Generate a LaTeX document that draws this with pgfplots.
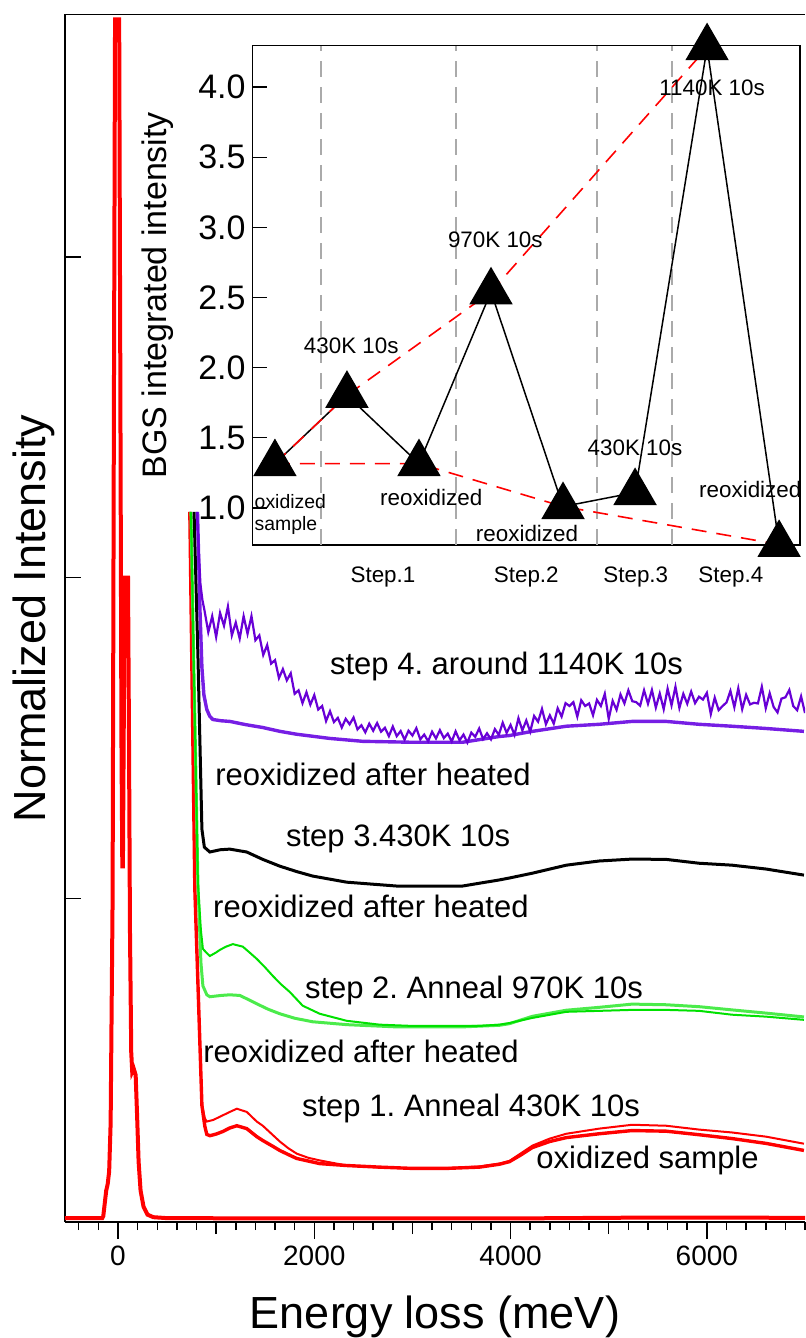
\documentclass[border=0pt]{standalone}
\usepackage{fontspec}
\setmainfont{Liberation Sans}
\usepackage{pgfplots}
\usepackage{pgfplotstable}
\pgfplotsset{compat=1.18}
\frenchspacing

\definecolor{grnA}{RGB}{0,225,0}
\definecolor{grnB}{RGB}{75,235,75}
\definecolor{purA}{RGB}{104,0,214}
\definecolor{purB}{RGB}{118,30,228}
\definecolor{gridgray}{RGB}{170,170,170}

\newcommand\labfont{\fontsize{22.5}{27}\selectfont}
\newcommand\annfont{\fontsize{15.5}{18.6}\selectfont}
\newcommand\tickfont{\fontsize{14}{16.8}\selectfont}
\newcommand\insfont{\fontsize{11.2}{13.4}\selectfont}
\newcommand\insaxfont{\fontsize{17}{20.4}\selectfont}
\newcommand\smallfont{\fontsize{9.7}{11}\selectfont}

% step 4 spectrum (noisy)
\pgfplotstableread{
x y
805 2.205
820 2.100
840 1.980
860 1.930
880 1.900
920 1.830
960 1.880
1000 1.815
1040 1.890
1080 1.850
1120 1.910
1160 1.820
1200 1.860
1240 1.810
1280 1.880
1320 1.825
1360 1.880
1400 1.805
1440 1.820
1480 1.759
1520 1.790
1560 1.732
1600 1.743
1640 1.687
1680 1.715
1720 1.680
1760 1.702
1800 1.638
1840 1.649
1880 1.609
1920 1.643
1960 1.604
2000 1.634
2040 1.589
2080 1.600
2120 1.553
2160 1.584
2200 1.550
2240 1.563
2280 1.533
2320 1.560
2360 1.543
2400 1.564
2440 1.527
2480 1.540
2520 1.518
2560 1.545
2600 1.523
2640 1.547
2680 1.520
2720 1.532
2760 1.506
2800 1.536
2840 1.506
2880 1.522
2920 1.495
2960 1.523
3000 1.508
3040 1.531
3080 1.496
3120 1.511
3160 1.490
3200 1.520
3240 1.499
3280 1.525
3320 1.500
3360 1.514
3400 1.489
3440 1.521
3480 1.493
3520 1.511
3560 1.486
3600 1.517
3640 1.504
3680 1.530
3720 1.497
3760 1.515
3800 1.496
3840 1.528
3880 1.510
3920 1.548
3960 1.516
4000 1.541
4040 1.510
4080 1.562
4120 1.524
4160 1.555
4200 1.520
4240 1.569
4280 1.551
4320 1.591
4360 1.543
4400 1.571
4440 1.545
4480 1.593
4520 1.567
4560 1.609
4600 1.600
4640 1.612
4680 1.567
4720 1.618
4760 1.600
4800 1.608
4840 1.571
4880 1.619
4920 1.600
4960 1.638
5000 1.560
5040 1.616
5080 1.588
5120 1.636
5160 1.608
5200 1.649
5240 1.615
5280 1.612
5320 1.601
5360 1.649
5400 1.607
5440 1.650
5480 1.595
5520 1.639
5560 1.590
5600 1.654
5640 1.602
5680 1.660
5720 1.594
5760 1.638
5800 1.607
5840 1.645
5880 1.609
5920 1.629
5960 1.620
6000 1.641
6040 1.575
6080 1.626
6120 1.587
6160 1.600
6200 1.611
6240 1.647
6280 1.596
6320 1.655
6360 1.590
6400 1.635
6440 1.605
6480 1.610
6520 1.608
6560 1.660
6600 1.593
6640 1.640
6680 1.597
6720 1.580
6760 1.623
6800 1.627
6840 1.650
6880 1.600
6920 1.587
6960 1.630
7000 1.578
}\stepfour

\begin{document}
\begin{tikzpicture}
\useasboundingbox (-32.5pt,-58pt) rectangle (370pt,611pt);

\begin{axis}[
  at={(0,0)}, anchor=south west, scale only axis,
  width=370pt, height=603.75pt,
  xmin=-540, xmax=7000, ymin=-0.008, ymax=3.755,
  axis x line*=box, axis y line*=left,
  axis line style={-, line width=0.75pt},
  every tick/.style={black, line width=0.75pt},
  tick align=outside,
  major tick length=8.5pt, minor tick length=4pt,
  xtick pos=bottom, ytick pos=left,
  xtick={0,2000,4000,6000}, xticklabels={0,2000,4000,6000},
  minor xtick={-400,-200,...,7000},
  extra x ticks={1000,3000,5000}, extra x tick labels={},
  extra x tick style={major tick length=6pt},
  ytick={0,1,2,3}, yticklabels={},
  ytick style={xshift=8pt},
  xticklabel style={font=\tickfont},
  xlabel={Energy loss (meV)},
  ylabel={Normalized Intensity},
  xlabel style={font=\labfont, at={(axis description cs:0.5,-0.0878)}, anchor=base},
  ylabel style={font=\labfont, at={(axis description cs:-0.027,0.5)}, anchor=base},
]
% elastic peak
\addplot[red, line width=2pt] coordinates {
(-540,0.004) (-160,0.004) (-150,0.01) (-135,0.05) (-120,0.09) (-105,0.11)
(-90,0.15) (-75,0.3) (-55,1.0) (-42,2.5) (-30,3.74) (12,3.74) (24,2.6)
(35,1.5) (44,1.1) (50,1.1) (58,1.5) (68,2.0) (102,2.0) (112,1.5) (122,0.9)
(135,0.52) (145,0.46) (160,0.47) (180,0.45) (195,0.32) (210,0.18)
(230,0.09) (260,0.04) (300,0.015) (360,0.007) (500,0.004) (2000,0.003)
(4000,0.003) (5500,0.006) (7000,0.005)};

% oxidized sample
\addplot[red, line width=1.7pt] coordinates {
(732,2.205) (783,1.03) (855,0.355) (885,0.29) (905,0.265) (936,0.261)
(1000,0.266) (1068,0.274) (1139,0.285) (1211,0.292) (1312,0.283)
(1414,0.258) (1475,0.246) (1577,0.228) (1648,0.215) (1750,0.2) (1821,0.19)
(2055,0.174) (2330,0.168) (2665,0.163) (3001,0.159) (3347,0.159)
(3683,0.163) (3886,0.172) (3988,0.18) (4100,0.2) (4222,0.224) (4400,0.243)
(4568,0.255) (4903,0.267) (5239,0.277) (5585,0.275) (5921,0.264)
(6256,0.252) (6602,0.237) (6989,0.215)};

% step 1
\addplot[red, line width=1pt] coordinates {
(732,2.205) (783,1.03) (855,0.36) (885,0.315) (905,0.305) (970,0.31)
(1038,0.32) (1139,0.335) (1211,0.345) (1312,0.335) (1414,0.305)
(1475,0.292) (1560,0.268) (1648,0.243) (1735,0.222) (1821,0.205)
(1940,0.192) (2055,0.184) (2330,0.168) (2665,0.162) (3001,0.159)
(3347,0.16) (3683,0.165) (3886,0.174) (3988,0.182) (4100,0.205)
(4222,0.23) (4400,0.252) (4568,0.267) (4903,0.283) (5239,0.295)
(5585,0.292) (5921,0.28) (6256,0.271) (6602,0.258) (6989,0.236)};

% reoxidized after step 1
\addplot[grnB, line width=1.5pt] coordinates {
(743,2.205) (790,1.45) (814,1.05) (845,0.8) (865,0.728) (905,0.70)
(936,0.694) (1050,0.698) (1139,0.70) (1241,0.698) (1330,0.685)
(1414,0.672) (1530,0.655) (1648,0.641) (1800,0.627) (1984,0.616)
(2330,0.607) (2838,0.60) (3510,0.60) (3886,0.605) (3988,0.61)
(4222,0.633) (4568,0.652) (4903,0.661) (5239,0.671) (5585,0.669)
(5921,0.663) (6256,0.653) (6602,0.643) (6989,0.631)};

% step 2
\addplot[grnA, line width=1pt] coordinates {
(743,2.205) (790,1.45) (814,1.05) (845,0.9) (865,0.843) (905,0.83)
(936,0.821) (1000,0.832) (1038,0.84) (1100,0.85) (1170,0.858) (1272,0.85)
(1340,0.832) (1414,0.812) (1500,0.785) (1577,0.759) (1660,0.733)
(1750,0.709) (1882,0.666) (2055,0.641) (2330,0.619) (2665,0.607)
(3001,0.603) (3347,0.603) (3683,0.603) (3886,0.607) (3988,0.612)
(4222,0.628) (4568,0.647) (4903,0.65) (5239,0.653) (5585,0.653)
(5921,0.65) (6256,0.638) (6602,0.632) (6989,0.622)};

% step 3
\addplot[black, line width=1.5pt] coordinates {
(775,2.205) (815,1.75) (855,1.216) (880,1.16) (936,1.145) (1040,1.152)
(1139,1.154) (1312,1.145) (1475,1.122) (1648,1.101) (1821,1.084)
(1984,1.07) (2330,1.051) (2838,1.039) (3510,1.039) (3886,1.058)
(3988,1.064) (4222,1.079) (4568,1.104) (4903,1.117) (5239,1.123)
(5585,1.122) (5921,1.11) (6256,1.104) (6602,1.092) (6989,1.073)};

% reoxidized after step 3
\addplot[purB, line width=1.7pt] coordinates {
(810,2.205) (835,1.9) (855,1.72) (875,1.635) (905,1.589) (935,1.568)
(966,1.558) (1050,1.554) (1139,1.552) (1300,1.542) (1475,1.533)
(1650,1.521) (1821,1.512) (2157,1.499) (2492,1.49) (3001,1.487)
(3510,1.487) (3886,1.505) (3988,1.508) (4222,1.521) (4568,1.537)
(4903,1.543) (5239,1.552) (5585,1.552) (5921,1.543) (6256,1.537)
(6602,1.53) (6989,1.521)};

% step 4
\addplot[purA, line width=1.1pt] table[x=x, y=y] {\stepfour};

\begin{scope}[every node/.style={font=\annfont, anchor=west, inner sep=0pt}]
\node at (axis cs:2157,1.723) {step 4. around 1140K 10s};
\node at (axis cs:987,1.387) {reoxidized after heated};
\node at (axis cs:1709,1.185) {step 3.430K 10s};
\node at (axis cs:966,0.974) {reoxidized after heated};
\node at (axis cs:1902,0.712) {step 2. Anneal 970K 10s};
\node at (axis cs:865,0.523) {reoxidized after heated};
\node at (axis cs:1872,0.345) {step 1. Anneal 430K 10s};
\node at (axis cs:4259,0.184) {oxidized sample};
\end{scope}
\end{axis}

% inset
\begin{axis}[
  at={(93.8pt,338.5pt)}, anchor=south west, scale only axis,
  width=273.7pt, height=249.7pt,
  xmin=-0.31, xmax=7.29, ymin=0.736, ymax=4.295,
  axis background/.style={fill=white},
  axis line style={line width=0.6pt},
  clip=false,
  xtick=\empty,
  extra x ticks={0.64,2.51,4.47,5.51}, extra x tick labels={},
  extra x tick style={grid=major, major tick length=0pt,
    major grid style={gridgray, line width=0.8pt, dash pattern=on 8pt off 5pt}},
  ytick={1,1.5,2,2.5,3,3.5,4},
  yticklabels={1.0,1.5,2.0,2.5,3.0,3.5,4.0},
  ytick pos=left, tick align=inside,
  major tick length=7.2pt,
  every tick/.style={black, line width=0.6pt},
  yticklabel style={font=\insaxfont},
]
\addplot[black, line width=0.75pt, mark=triangle*, mark size=11.8pt,
  mark options={fill=black, solid}] coordinates {
(0,1.316) (1,1.803) (2,1.316) (3,2.54) (4,1.01) (5,1.11) (6,4.28) (7,0.74)};
\addplot[red, line width=0.8pt, dash pattern=on 7.5pt off 5pt] coordinates {
(0,1.316) (1,1.803) (3,2.54) (6,4.28)};
\addplot[red, line width=0.8pt, dash pattern=on 7.5pt off 5pt] coordinates {
(0,1.316) (2,1.316) (4,1.01) (7,0.74)};

\begin{scope}[every node/.style={font=\insfont, inner sep=0pt}]
\node at (axis cs:1.06,2.157) {430K 10s};
\node at (axis cs:3.06,2.91) {970K 10s};
\node at (axis cs:6.07,3.996) {1140K 10s};
\node at (axis cs:5.0,1.427) {430K 10s};
\node at (axis cs:2.17,1.071) {reoxidized};
\node at (axis cs:3.5,0.818) {reoxidized};
\node at (axis cs:6.6,1.128) {reoxidized};
\node[font=\smallfont, anchor=west, align=left] at (axis cs:-0.286,0.95) {oxidized\\sample};
\node at (axis cs:1.5,0.508) {Step.1};
\node at (axis cs:3.49,0.508) {Step.2};
\node at (axis cs:5.01,0.508) {Step.3};
\node at (axis cs:6.33,0.508) {Step.4};
\end{scope}
\node[rotate=90, font=\insaxfont, inner sep=0pt] at (rel axis cs:-0.1728,0.5) {BGS integrated intensity};
\end{axis}
\end{tikzpicture}
\end{document}
